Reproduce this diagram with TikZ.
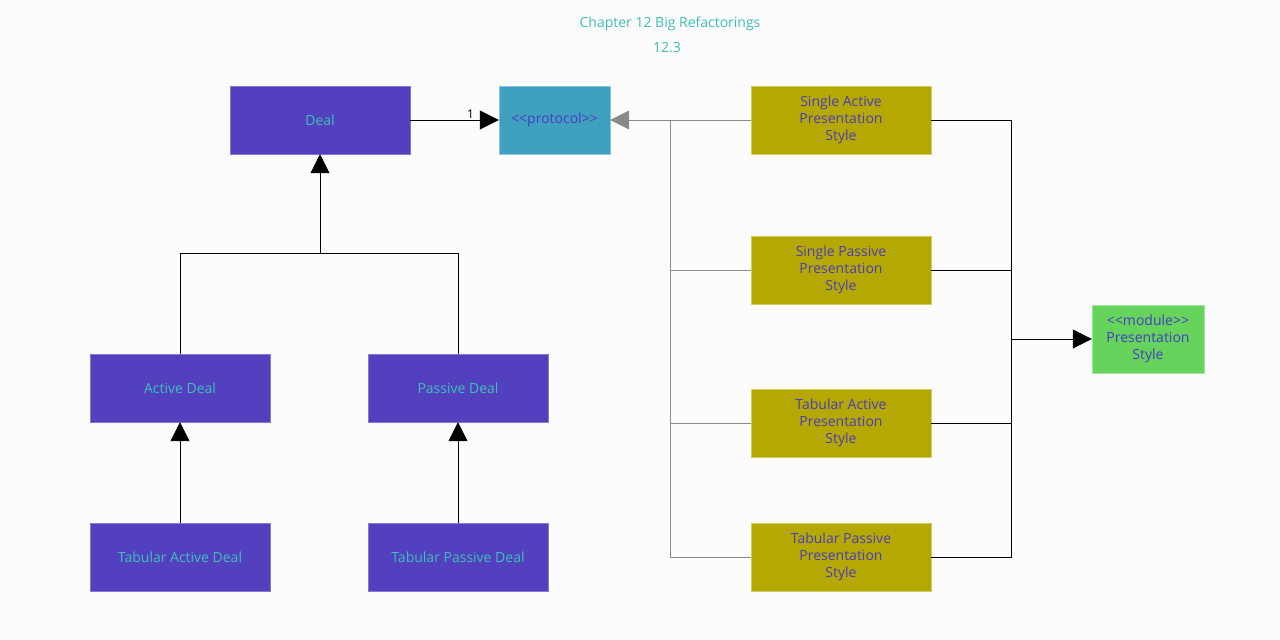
\documentclass[tikz,border=0pt]{standalone}
\usepackage{fontspec}
\setmainfont{Open Sans}
\usetikzlibrary{arrows.meta}
\definecolor{bg}{HTML}{FCFCFC}
\definecolor{dealfill}{HTML}{5340BF}
\definecolor{dealtext}{HTML}{3EC0B8}
\definecolor{protofill}{HTML}{40A0C0}
\definecolor{stylefill}{HTML}{B5A800}
\definecolor{modfill}{HTML}{66D45C}
\definecolor{bluetext}{HTML}{4A3CC0}
\definecolor{titletext}{HTML}{3DBDB5}
\definecolor{grayline}{HTML}{8A8A8A}
\tikzset{
  box/.style={rectangle, minimum width=180pt, minimum height=68pt, inner sep=2pt, align=center, font=\fontsize{14}{17}\selectfont},
  dealbox/.style={box, fill=dealfill, draw=dealfill!70!white, text=dealtext},
  stylebox/.style={box, fill=stylefill, draw=stylefill!60!white, text=bluetext},
  protobox/.style={box, minimum width=111pt, fill=protofill, draw=protofill!60!white, text=bluetext},
  modbox/.style={box, minimum width=112pt, fill=modfill, draw=modfill!60!white, text=bluetext},
  conn/.style={draw=black, line width=0.8pt},
  gconn/.style={draw=grayline, line width=0.8pt},
  tip/.style={-{Triangle[length=19pt,width=19pt]}},
}
\begin{document}
\begin{tikzpicture}[x=1pt,y=-1pt]
\fill[bg] (0,0) rectangle (1280,640);
\useasboundingbox (0,0) rectangle (1280,640);
\node[text=titletext, font=\fontsize{14}{17}\selectfont] (t1) at (670,24) {Chapter 12 Big Refactorings};
\node[text=titletext, font=\fontsize{14}{17}\selectfont] (t2) at (667,48) {12.3};

\node[dealbox] (deal) at (320,120) {Deal};
\node[protobox] (proto) at (554.5,120) {<{}<protocol>{}>};
\node[dealbox] (ad) at (180,388) {Active Deal};
\node[dealbox] (pd) at (458,388) {Passive Deal};
\node[dealbox] (tad) at (180,557) {Tabular Active Deal};
\node[dealbox] (tpd) at (458,557) {Tabular Passive Deal};

\node[stylebox] (s1) at (841,120) {Single Active\\Presentation\\Style};
\node[stylebox] (s2) at (841,270) {Single Passive\\Presentation\\Style};
\node[stylebox] (s3) at (841,423) {Tabular Active\\Presentation\\Style};
\node[stylebox] (s4) at (841,557) {Tabular Passive\\Presentation\\Style};
\node[modbox] (mod) at (1148,339) {<{}<module>{}>\\Presentation\\Style};

\coordinate (gl) at (670,120);
\coordinate (rj) at (1011,339);
\coordinate (hj) at (320,253);

% Deal -> protocol
\draw[conn, tip] (deal.east) -- node[pos=0.68, above, font=\fontsize{12}{14}\selectfont, inner sep=1pt] (one) {1} (proto.west);

% styles -> protocol (gray)
\draw[gconn] (s2.west) -| (gl);
\draw[gconn] (s3.west) -| (gl);
\draw[gconn] (s4.west) -| (gl);
\draw[gconn, -{Triangle[length=19pt,width=19pt]}] (s1.west) -- (proto.east);

% styles -> module
\draw[conn] (s1.east) -| (rj);
\draw[conn] (s2.east) -| (rj);
\draw[conn] (s3.east) -| (rj);
\draw[conn] (s4.east) -| (rj);
\draw[conn, tip] (rj) -- (mod.west);

% inheritance
\draw[conn] (ad.north) |- (hj);
\draw[conn] (pd.north) |- (hj);
\draw[conn, tip] (hj) -- (deal.south);
\draw[conn, tip] (tad.north) -- (ad.south);
\draw[conn, tip] (tpd.north) -- (pd.south);
\end{tikzpicture}
\end{document}
